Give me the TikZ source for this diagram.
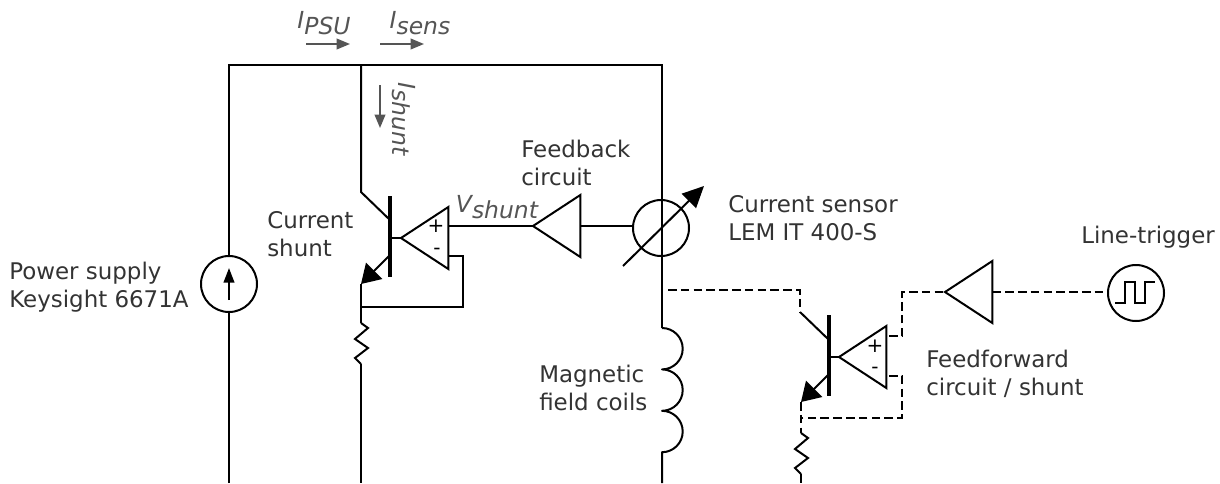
\documentclass[tikz,border=0pt]{standalone}
\usepackage{fontspec}
\setmainfont{DejaVu Sans}
\usetikzlibrary{arrows.meta,shapes.geometric}
\definecolor{textcol}{HTML}{333333}
\definecolor{currcol}{HTML}{555555}
\newcommand{\sublabel}[2]{\textit{#1\raisebox{-4pt}{#2}}}
\tikzset{
  wire/.style={line width=1.5pt},
  dashwire/.style={line width=1.5pt,dash pattern=on 6.5pt off 3.1pt},
  amp/.style={isosceles triangle,isosceles triangle stretches,shape border rotate=180,draw,line width=1.5pt,
    minimum height=35.5pt,minimum width=46.5pt,inner sep=0pt,outer sep=0pt,anchor=apex},
  meter/.style={circle,draw,line width=1.5pt,minimum size=42pt,inner sep=0pt,outer sep=0pt},
  txt/.style={text=textcol,font=\fontsize{17.2}{21}\selectfont,align=left,anchor=west,inner sep=0pt},
  curr/.style={text=currcol,font=\fontsize{17.6}{21}\selectfont,inner sep=0pt},
  sign/.style={text=black,inner sep=0pt},
  currarrow/.style={draw=currcol,line width=1.2pt,-{Triangle[length=10pt,width=8pt]}},
  resistor/.pic={
    \draw[wire] (0,0) -- (7,5) -- (-6,16) -- (7,25) -- (-6,35) -- (0,41);
  }
}
\begin{document}
\begin{tikzpicture}[x=0.75pt,y=-0.75pt]
  \useasboundingbox (0,0) rectangle (1220,483);
  % rails
  \coordinate (railtl) at (229,65);
  \coordinate (railtm) at (361,65);
  \coordinate (railtr) at (662,65);
  \coordinate (coiltop) at (662,328);
  \coordinate (botl) at (229,483);
  \coordinate (botm) at (361,483);
  \coordinate (botr) at (662,483);
  \coordinate (botff) at (801,483);
  \node[meter] (psu) at (229,284) {};
  \node[meter] (sens) at (661,228) {};
  \node[meter] (trig) at (1136,293) {};
  \draw[wire] (botl) -- (psu);
  \draw[wire] (psu) -- (railtl) -- (railtr) -- (coiltop);
  \draw[wire,-{Triangle[length=11pt,width=8pt]}] (229,300) -- (229,268);
  % shunt
  \coordinate (colltop) at (361,192);
  \coordinate (collbar) at (390,220);
  \coordinate (emitbar) at (390,255);
  \coordinate (emittip) at (361,284);
  \coordinate (shuntnode) at (361,307);
  \coordinate (shuntres) at (361,323);
  \coordinate (shuntresend) at (361,364);
  \draw[line width=3pt] (390,196) -- (390,277);
  \draw[wire] (railtm) -- (colltop) -- (collbar);
  \draw[wire,-{Triangle[length=14pt,width=17pt]}] (emitbar) -- (emittip);
  \draw[wire] (emittip) -- (shuntres);
  \pic at (shuntres) {resistor};
  \draw[wire] (shuntresend) -- (botm);
  \node[amp] (shuntamp) at (401,238) {};
  \draw[wire] (390,238) -- (shuntamp.apex);
  \node[amp] (fbamp) at (533,226) {};
  \coordinate (ampin) at (449,226);
  \coordinate (ampfb) at (449,256);
  \draw[wire] (ampin) -- (fbamp.apex);
  \draw[wire] (fbamp.lower side) -- (sens.west |- fbamp.lower side);
  \draw[wire] (ampfb) -- (463,256) -- (463,307) -- (shuntnode);
  \node[sign] (shuntplus) at (436,226) {\fontsize{15}{15}\selectfont +};
  \node[sign] (shuntminus) at (437,251) {\fontsize{15}{15}\selectfont -};
  \draw[wire,-{Triangle[length=16pt,width=15pt]}] (623,266) -- (704,186);
  % coils
  \draw[wire,line join=round] (coiltop) arc[start angle=-90,end angle=90,radius=20.7]
    arc[start angle=-90,end angle=90,radius=20.7]
    arc[start angle=-90,end angle=90,radius=20.7] -- (botr);
  % feedforward
  \coordinate (ffcoll) at (800,312);
  \coordinate (ffbar) at (828,339);
  \coordinate (ffemit) at (828,375);
  \coordinate (fftip) at (801,402);
  \coordinate (ffnode) at (801,418);
  \coordinate (ffres) at (801,433);
  \coordinate (ffresend) at (801,474);
  \draw[dashwire] (668,290) -- (800,290) -- (ffcoll);
  \draw[line width=3pt] (829,315) -- (829,396);
  \draw[wire] (ffcoll) -- (ffbar);
  \draw[wire,-{Triangle[length=14pt,width=17pt]}] (ffemit) -- (fftip);
  \draw[dashwire] (fftip) -- (ffres);
  \pic at (ffres) {resistor};
  \draw[dashwire] (ffresend) -- (botff);
  \node[amp] (ffamp) at (839,357) {};
  \draw[wire] (829,357) -- (ffamp.apex);
  \node[amp] (trigamp) at (945,292) {};
  \coordinate (ffin) at (889,336);
  \coordinate (ffback) at (889,376);
  \draw[dashwire] (ffin) -- (902,336) -- (902,292) -- (trigamp.apex);
  \draw[dashwire] (trigamp.lower side) -- (trig.west |- trigamp.lower side);
  \draw[dashwire] (ffback) -- (902,376) -- (902,418) -- (ffnode);
  \node[sign] (ffplus) at (875,346) {\fontsize{15}{15}\selectfont +};
  \node[sign] (ffminus) at (875,370) {\fontsize{15}{15}\selectfont -};
  \draw[wire] (1115,303) -- (1125,303) -- (1125,282) -- (1135,282) -- (1135,303) -- (1145,303) -- (1145,282) -- (1155,282);
  % texts
  \node[txt] (psutxt) at (9,287) {Power supply\\Keysight 6671A};
  \node[txt] (shunttxt) at (267,234) {Current\\shunt};
  \node[txt] (fbtxt) at (521,163) {Feedback\\circuit};
  \node[txt] (senstxt) at (728,218) {Current sensor\\LEM IT 400-S};
  \node[txt] (trigtxt) at (1081,237) {Line-trigger};
  \node[txt] (coiltxt) at (539,388) {Magnetic\\field coils};
  \node[txt] (fftxt) at (926,374) {Feedforward\\circuit / shunt};
  \node[curr] (ipsu) at (324,23) {\sublabel{I}{PSU}};
  \node[curr] (isens) at (420,23) {\sublabel{I}{sens}};
  \node[curr,rotate=-90] (ishunt) at (404,119) {\sublabel{I}{shunt}};
  \node[curr] (vshunt) at (497,207) {\sublabel{V}{shunt}};
  \coordinate (ipsua) at (306,44);
  \coordinate (ipsub) at (350,44);
  \coordinate (isensa) at (380,44);
  \coordinate (isensb) at (424,44);
  \coordinate (ishunta) at (380,85);
  \coordinate (ishuntb) at (380,128);
  \draw[currarrow] (ipsua) -- (ipsub);
  \draw[currarrow] (isensa) -- (isensb);
  \draw[currarrow] (ishunta) -- (ishuntb);
\end{tikzpicture}
\end{document}
